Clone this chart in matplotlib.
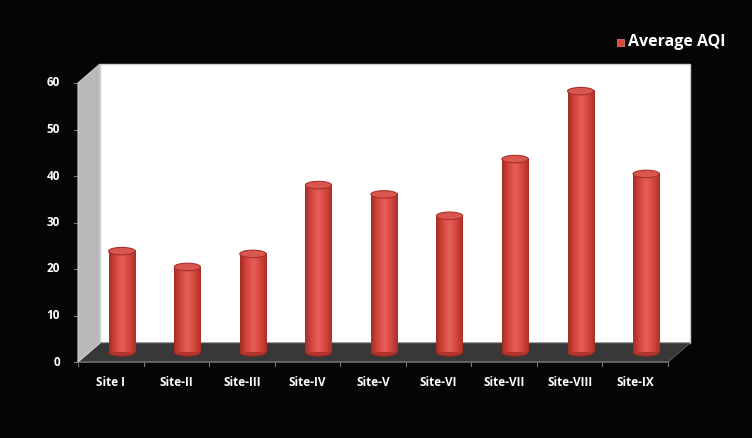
import numpy as np
import matplotlib
matplotlib.use("Agg")
import matplotlib.pyplot as plt
from matplotlib.patches import Polygon, Ellipse
from matplotlib.colors import LinearSegmentedColormap

# ---- data ----
sites = ["Site I", "Site-II", "Site-III", "Site-IV", "Site-V",
         "Site-VI", "Site-VII", "Site-VIII", "Site-IX"]
avg_aqi = [21.8, 18.4, 21.2, 36, 34, 29.4, 41.6, 56.2, 38.4]
yticks = [0, 10, 20, 30, 40, 50, 60]
legend_label = "Average AQI"

W, H, DPI = 752, 438, 100
fig = plt.figure(figsize=(W / DPI, H / DPI), dpi=DPI, facecolor="#050505")
FONT = "Open Sans"

# axes = mid-depth plane
left_px, right_px = 89, 679
y0_px, y60_px = 352.5, 73.5
ax = fig.add_axes([left_px / W, (H - y0_px) / H,
                   (right_px - left_px) / W, (y0_px - y60_px) / H])
ax.set_xlim(-0.5, len(sites) - 0.5)
ax.set_ylim(0, 60)
ax.axis("off")
ax.set_zorder(10)

DX, DY = 11, 9.5   # half depth offset in pixels (right / up toward back)

def to_fig(pts, dx, dy):
    d = ax.transData.transform(pts) + np.array([dx, dy])
    return fig.transFigure.inverted().transform(d)

xmin, xmax = -0.5, len(sites) - 0.5
ymax = yticks[-1]

def add_poly(pts, **kw):
    p = Polygon(pts, closed=True, transform=fig.transFigure, clip_on=False, **kw)
    fig.add_artist(p)
    return p

# back wall
bw = to_fig([(xmin, 0), (xmax, 0), (xmax, ymax), (xmin, ymax)], DX, DY)
add_poly(bw, facecolor="white", edgecolor="#cfcfcf", lw=1.0, zorder=1)

# floor
fl = np.vstack([to_fig([(xmin, 0), (xmax, 0)], DX, DY),
                to_fig([(xmax, 0), (xmin, 0)], -DX, -DY)])
add_poly(fl, facecolor="#383838", edgecolor="#555555", lw=0.8, zorder=2)
fe = to_fig([(xmin, 0), (xmax, 0)], -DX, -DY)
fig.add_artist(plt.Line2D(fe[:, 0], fe[:, 1], transform=fig.transFigure,
                          color="#6a6a6a", lw=1.2, zorder=2.1))

# left wall
lw_ = np.vstack([to_fig([(xmin, 0), (xmin, ymax)], DX, DY),
                 to_fig([(xmin, ymax), (xmin, 0)], -DX, -DY)])
add_poly(lw_, facecolor="#b9b9b9", edgecolor="#d0d0d0", lw=0.8, zorder=2.2)

# y tick labels & ticks on front-left edge
for t in yticks:
    p = to_fig([(xmin, t)], -DX, -DY)[0]
    fig.text(p[0] - 18 / W, p[1], str(t), color="white", fontsize=8.5,
             fontweight="bold", family=FONT, ha="right", va="center")
    fig.add_artist(plt.Line2D([p[0] - 4 / W, p[0]], [p[1], p[1]],
                              transform=fig.transFigure, color="#777777", lw=0.8))

# x tick marks & labels
for i in range(len(sites) + 1):
    p = to_fig([(i - 0.5, 0)], -DX, -DY)[0]
    fig.add_artist(plt.Line2D([p[0], p[0]], [p[1], p[1] - 4 / H],
                              transform=fig.transFigure, color="#777777", lw=0.8))
for i, s in enumerate(sites):
    p = to_fig([(i, 0)], -DX, -DY)[0]
    fig.text(p[0], p[1] - 21 / H, s, color="white", fontsize=8.5,
             fontweight="bold", family=FONT, ha="center", va="center")

# cylinders
bar_w = 0.40
ell_h = 7.5 / ((y0_px - y60_px) / 60)   # ellipse height in data units
cmap = LinearSegmentedColormap.from_list(
    "cyl", ["#a52d26", "#d6463d", "#e4605a", "#d6463d", "#ab3029"])
grad = np.linspace(0, 1, 64).reshape(1, -1)
for i, v in enumerate(avg_aqi):
    ax.add_patch(Ellipse((i, 0), bar_w, ell_h, facecolor="#b2352d",
                         edgecolor="#8e241f", lw=0.6, zorder=3, clip_on=False))
    ax.imshow(grad, cmap=cmap, aspect="auto",
              extent=(i - bar_w / 2, i + bar_w / 2, 0, v), zorder=4)
    ax.add_patch(Ellipse((i, v), bar_w, ell_h, facecolor="#d9574e",
                         edgecolor="#a83029", lw=0.8, zorder=5, clip_on=False))
ax.set_xlim(-0.5, len(sites) - 0.5)
ax.set_ylim(0, 60)

# legend
fig.patches.append(plt.Rectangle((617 / W, (H - 46) / H), 7 / W, 7 / H,
                                 transform=fig.transFigure, facecolor="#d9483f",
                                 edgecolor="#f08080", lw=0.5))
fig.text(628 / W, (H - 42.5) / H, legend_label, color="white", fontsize=11.5,
         fontweight="bold", family=FONT, ha="left", va="center")

fig.savefig("out.png", dpi=DPI, facecolor=fig.get_facecolor())
